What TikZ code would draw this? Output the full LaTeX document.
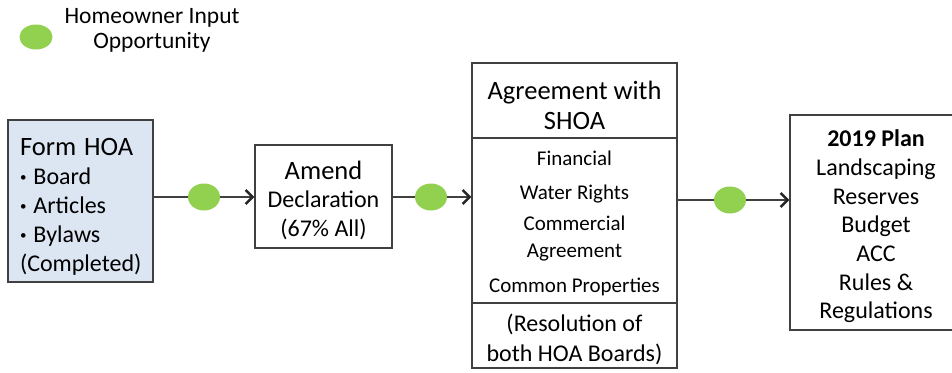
\documentclass[tikz,border=0pt]{standalone}
\usepackage{fontspec}
\setmainfont{Carlito}
\usepackage{tikz}
\usetikzlibrary{arrows.meta,shapes.geometric}
\definecolor{hoablue}{HTML}{DCE6F2}
\definecolor{inputgreen}{HTML}{92D050}
\definecolor{edgegray}{HTML}{404040}
\newcommand\hoatitle{\fontsize{26.5}{30}\selectfont}
\newcommand\hoatext{\fontsize{24}{29}\selectfont}
\newcommand\hoaitem{\fontsize{21}{27}\selectfont}
\newcommand\hoalegend{\fontsize{23.5}{25}\selectfont}
\newcommand\hoabullet{{\fontsize{13}{13}\selectfont\raisebox{3pt}{•}}\hspace{7pt}}
\tikzset{
  box/.style={draw=edgegray,line width=1.5pt,inner sep=0pt},
  divider/.style={draw=edgegray,line width=1.5pt},
  hio/.style={ellipse,fill=inputgreen,minimum width=32pt,minimum height=27pt,inner sep=0pt},
  link/.style={draw=edgegray,line width=1.8pt},
  flow/.style={link,-{Straight Barb[length=7pt,width=14pt,line width=2.4pt,color=black!85]}}
}

\begin{document}
\begin{tikzpicture}[x=1pt,y=-1pt]
  \useasboundingbox (0,0) rectangle (952,372);
  \clip (0,0) rectangle (952,372);
% legend
\node[hio,minimum width=33pt,minimum height=25pt] (legdot) at (36,37) {};
\node[align=center,font=\hoalegend] (legtext) at (152,30) {Homeowner Input\\Opportunity};
% steps
\node[box,fill=hoablue,minimum width=145pt,minimum height=162pt] (form) at (80.5,201) {};
\node[align=left,text width=121pt,inner sep=0pt,font=\hoatext,yshift=-6pt]
  (formtext) at (form.center) {{\hoatitle Form HOA}\\\hoabullet Board\\\hoabullet Articles\\\hoabullet Bylaws\\(Completed)};
\node[box,minimum width=137pt,minimum height=103pt] (amend) at (323.5,196.5) {};
\node[align=center,font=\fontsize{24}{28.5}\selectfont,yshift=-3.5pt]
  (amendtext) at (amend.center) {{\hoatitle Amend}\\Declaration\\(67\% All)};
\node[box,minimum width=205pt,minimum height=305pt] (agr) at (574.5,215.5) {};
\coordinate (cut1) at (574.5,138);
\coordinate (cut2) at (574.5,303);
\draw[divider] (agr.west |- cut1) -- (agr.east |- cut1);
\draw[divider] (agr.west |- cut2) -- (agr.east |- cut2);
\node[align=center,font=\hoatitle] (agrtitle) at (574.5,105) {Agreement with\\SHOA};
\node[font=\hoaitem] (financial) at (574.5,158) {Financial};
\node[font=\hoaitem] (water) at (574.5,194) {Water Rights};
\node[align=center,font=\hoaitem] (commercial) at (574.5,239) {Commercial\\Agreement};
\node[font=\hoaitem] (common) at (574.5,287) {Common Properties};
\node[align=center,font=\fontsize{24}{30}\selectfont] (resolution) at (574.5,339) {(Resolution of\\both HOA Boards)};
\node[box,minimum width=172pt,minimum height=215pt] (plan) at (876,222.5) {};
\node[align=center,font=\fontsize{24}{28.7}\selectfont,yshift=-4pt]
  (plantext) at (plan.center) {\textbf{2019 Plan}\\Landscaping\\Reserves\\Budget\\ACC\\Rules \&\\Regulations};
% input points
\node[hio] (in1) at (204,197) {};
\node[hio] (in2) at (431,197) {};
\node[hio] (in3) at (730,200) {};
\draw[link] (form.east |- in1) -- (in1);
\draw[flow] (in1) -- (amend.west |- in1);
\draw[link] (amend.east |- in2) -- (in2);
\draw[flow] (in2) -- (agr.west |- in2);
\draw[link] (agr.east |- in3) -- (in3);
\draw[flow] (in3) -- (plan.west |- in3);
\end{tikzpicture}
\end{document}
